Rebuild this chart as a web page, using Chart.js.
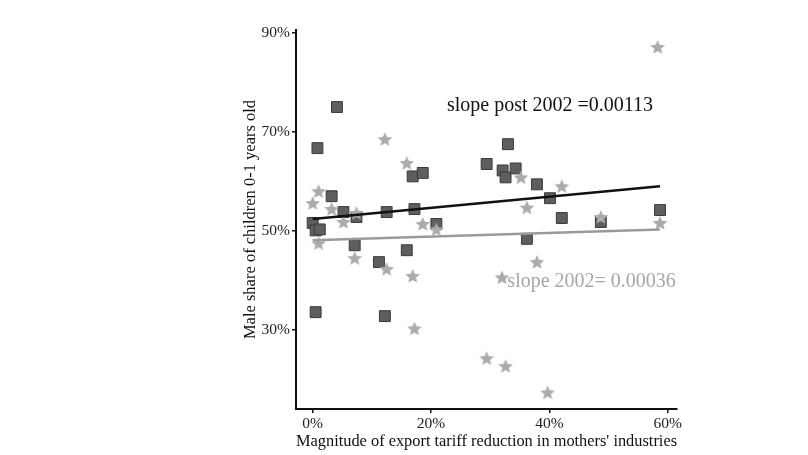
<!DOCTYPE html>
<html>
<head>
<meta charset="utf-8">
<script src="https://cdn.jsdelivr.net/npm/chart.js@4/dist/chart.umd.min.js"></script>
<style>
  html, body { margin: 0; padding: 0; background: #fff; }
  #wrap { width: 808px; height: 455px; }
</style>
</head>
<body>
<div id="wrap"><canvas id="myChart" width="808" height="455"></canvas></div>
<script>
// post 2002 observations (squares)
const postX = [0, 0.5, 1.2, 0.8, 4.1, 3.2, 5.2, 7.4, 7.1, 0.5, 11.2, 12.2, 12.5, 15.9, 16.9, 17.2, 18.6, 20.9,
               29.4, 33.0, 32.1, 32.6, 34.3, 37.9, 40.1, 36.2, 42.1, 48.7, 58.7];
const postY = [51.6, 50.1, 50.3, 66.7, 75.0, 57.0, 53.8, 52.8, 47.1, 33.6, 43.7, 32.8, 53.8, 46.1, 61.0, 54.4, 61.7, 51.4,
               63.5, 67.5, 62.2, 60.8, 62.6, 59.4, 56.6, 48.4, 52.6, 51.8, 54.2];

// 2002 observations (stars)
const preX = [0, 1.0, 3.2, 5.2, 7.4, 12.2, 15.9, 18.6, 1.0, 7.1, 12.5, 16.9, 17.2, 20.9,
              35.2, 36.2, 42.1, 48.7, 58.7, 58.3, 37.9, 32.0, 29.4, 32.6, 39.7];
const preY = [55.6, 58.0, 54.4, 51.8, 53.6, 68.5, 63.7, 51.4, 47.5, 44.5, 42.3, 40.9, 30.3, 50.3,
              60.8, 54.7, 59.0, 52.8, 51.6, 87.1, 43.7, 40.6, 24.3, 22.7, 17.4];

// fitted lines (end points)
const fitX = [0, 58.7];
const fitPost = [52.4, 59.0];
const fitPre = [48.1, 50.3];

const xTicks = [0, 20, 40, 60];
const yTicks = [30, 50, 70, 90];

const notePost = { text: 'slope post 2002 =0.00113', x: 22.7, y: 75.2 };
const notePre = { text: 'slope 2002= 0.00036', x: 32.9, y: 39.8 };

const FONT = "'Liberation Serif', serif";

// filled five point star used as point style
function makeStar(r, color) {
    const c = document.createElement('canvas');
    const s = Math.ceil(2 * r + 2);
    c.width = s;
    c.height = s;
    const g = c.getContext('2d');
    g.fillStyle = color;
    g.beginPath();
    for (let i = 0; i < 10; i++) {
        const rr = i % 2 ? r * 0.45 : r;
        const a = -Math.PI / 2 + i * Math.PI / 5;
        g.lineTo(s / 2 + rr * Math.cos(a), s / 2 + rr * Math.sin(a) + r * 0.08);
    }
    g.closePath();
    g.fill();
    return c;
}

function pairs(xs, ys) {
    return xs.map((x, i) => ({ x: x, y: ys[i] }));
}

// writes the two slope notes at data positions
const notes = {
    id: 'notes',
    afterDatasetsDraw(chart) {
        const ctx = chart.ctx;
        const xs = chart.scales.x;
        const ys = chart.scales.y;
        ctx.save();
        ctx.font = '20px ' + FONT;
        ctx.textBaseline = 'middle';
        ctx.textAlign = 'left';
        ctx.fillStyle = '#111';
        ctx.fillText(notePost.text, xs.getPixelForValue(notePost.x), ys.getPixelForValue(notePost.y));
        ctx.fillStyle = '#a6a6a6';
        ctx.fillText(notePre.text, xs.getPixelForValue(notePre.x), ys.getPixelForValue(notePre.y));
        ctx.restore();
    }
};

const ctx = document.getElementById('myChart').getContext('2d');
const myChart = new Chart(ctx, {
    type: 'scatter',
    data: {
        datasets: [{
            label: 'post 2002',
            data: pairs(postX, postY),
            pointStyle: 'rect',
            pointRadius: 7.7,
            backgroundColor: '#5e5e5e',
            borderColor: '#3a3a3a',
            borderWidth: 1,
            order: 3
        }, {
            label: '2002',
            data: pairs(preX, preY),
            pointStyle: makeStar(7.7, '#ababab'),
            pointRadius: 7,
            order: 2
        }, {
            type: 'line',
            label: 'fit post 2002',
            data: pairs(fitX, fitPost),
            borderColor: '#111',
            borderWidth: 2.5,
            pointRadius: 0,
            order: 1
        }, {
            type: 'line',
            label: 'fit 2002',
            data: pairs(fitX, fitPre),
            borderColor: '#9a9a9a',
            borderWidth: 2.5,
            pointRadius: 0,
            order: 1
        }]
    },
    options: {
        responsive: false,
        animation: false,
        layout: { padding: { left: 241, right: 131, top: 30, bottom: 3 } },
        plugins: {
            legend: { display: false },
            tooltip: { enabled: false }
        },
        scales: {
            x: {
                type: 'linear',
                min: -2.82,
                max: 61.57,
                afterBuildTicks: (axis) => { axis.ticks = xTicks.map(v => ({ value: v })); },
                afterFit: (axis) => { axis.height = 43; },
                grid: { drawOnChartArea: false, drawTicks: true, tickLength: 4, color: '#111', lineWidth: 1.5 },
                border: { display: true, color: '#111', width: 2 },
                ticks: {
                    padding: 2,
                    color: '#222',
                    font: { family: FONT, size: 15.5 },
                    callback: (v) => v + '%'
                },
                title: {
                    display: true,
                    text: "Magnitude of export tariff reduction in mothers' industries",
                    color: '#111',
                    font: { family: FONT, size: 16.5 },
                    padding: { top: 0, bottom: 0 }
                }
            },
            y: {
                type: 'linear',
                min: 14.06,
                max: 90.54,
                afterBuildTicks: (axis) => { axis.ticks = yTicks.map(v => ({ value: v })); },
                afterFit: (axis) => { axis.width = 55; },
                grid: { drawOnChartArea: false, drawTicks: true, tickLength: 4, color: '#111', lineWidth: 1.5 },
                border: { display: true, color: '#111', width: 2 },
                ticks: {
                    padding: 2,
                    color: '#222',
                    font: { family: FONT, size: 15.5 },
                    callback: (v) => v + '%'
                },
                title: {
                    display: true,
                    text: 'Male share of children 0-1 years old',
                    color: '#111',
                    font: { family: FONT, size: 16.5 },
                    padding: { top: 0, bottom: 0 }
                }
            }
        }
    },
    plugins: [notes]
});
</script>
</body>
</html>
